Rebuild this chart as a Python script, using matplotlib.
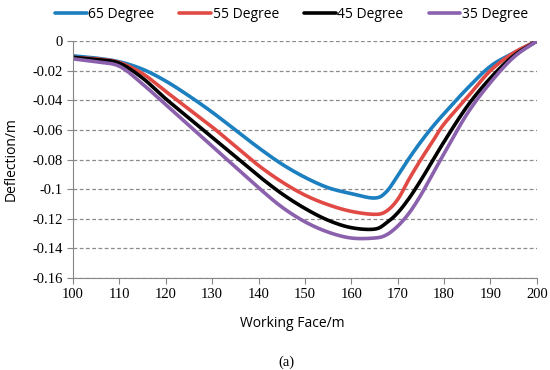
import matplotlib
matplotlib.use("Agg")
import matplotlib.pyplot as plt
import numpy as np

# working face position (m)
face = [100, 105, 110, 115, 120, 125, 130, 135, 140, 145, 150, 155, 160,
        165, 167.5, 170, 172.5, 175, 177.5, 180, 185, 190, 195, 200]

deg65 = [-0.010, -0.0115, -0.014, -0.019, -0.027, -0.037, -0.048, -0.060, -0.072,
         -0.083, -0.092, -0.099, -0.103, -0.106, -0.102, -0.091, -0.079, -0.068,
         -0.058, -0.049, -0.032, -0.017, -0.008, 0.0]
deg55 = [-0.011, -0.012, -0.0145, -0.022, -0.034, -0.046, -0.058, -0.071, -0.084,
         -0.095, -0.104, -0.1105, -0.115, -0.117, -0.115, -0.107, -0.093, -0.080,
         -0.068, -0.056, -0.038, -0.020, -0.008, 0.0]
deg45 = [-0.011, -0.0125, -0.015, -0.025, -0.039, -0.052, -0.065, -0.078, -0.091,
         -0.103, -0.113, -0.121, -0.126, -0.127, -0.123, -0.116, -0.106, -0.094,
         -0.081, -0.068, -0.044, -0.025, -0.010, 0.0]
deg35 = [-0.012, -0.014, -0.017, -0.029, -0.043, -0.057, -0.071, -0.085, -0.099,
         -0.112, -0.122, -0.129, -0.133, -0.133, -0.131, -0.125, -0.116, -0.104,
         -0.090, -0.076, -0.049, -0.028, -0.011, 0.0]

labels = ["65 Degree", "55 Degree", "45 Degree", "35 Degree"]
colors = ["#1b7fc0", "#e14a44", "#000000", "#8b61ad"]

xticks = list(range(100, 201, 10))
yticks = [0, -0.02, -0.04, -0.06, -0.08, -0.1, -0.12, -0.14, -0.16]
ytick_labels = ["0", "-0.02", "-0.04", "-0.06", "-0.08", "-0.1", "-0.12", "-0.14", "-0.16"]


def smooth(x, y, n=12):
    # catmull-rom drawing like excel's smoothed line
    x = np.asarray(x, float)
    y = np.asarray(y, float)
    px = np.concatenate([[2 * x[0] - x[1]], x, [2 * x[-1] - x[-2]]])
    py = np.concatenate([[2 * y[0] - y[1]], y, [2 * y[-1] - y[-2]]])
    xs, ys = [], []
    t = np.linspace(0, 1, n, endpoint=False)
    for i in range(1, len(px) - 2):
        for p, out in ((px, xs), (py, ys)):
            p0, p1, p2, p3 = p[i - 1], p[i], p[i + 1], p[i + 2]
            out.extend(0.5 * (2 * p1 + (-p0 + p2) * t
                              + (2 * p0 - 5 * p1 + 4 * p2 - p3) * t ** 2
                              + (-p0 + 3 * p1 - 3 * p2 + p3) * t ** 3))
    xs.append(x[-1])
    ys.append(y[-1])
    return xs, ys


fig = plt.figure(figsize=(5.5, 3.7), dpi=100)
ax = fig.add_axes([0.1327, 0.2486, 0.8433, 0.6404])

for ys, lab, c in zip([deg65, deg55, deg45, deg35], labels, colors):
    sx, sy = smooth(face, ys)
    ax.plot(sx, sy, color=c, lw=2.6, label=lab, solid_capstyle="round")

ax.set_xlim(100, 200)
ax.set_ylim(-0.16, 0)
ax.set_xticks(xticks)
ax.set_yticks(yticks)
ax.set_yticklabels(ytick_labels)
for t in ax.get_xticklabels() + ax.get_yticklabels():
    t.set_fontfamily("Liberation Serif")
    t.set_fontsize(10.5)

ax.grid(axis="y", color="#8a8a8a", ls=(0, (3, 2)), lw=0.9)
ax.set_axisbelow(True)
for s in ["top", "right"]:
    ax.spines[s].set_visible(False)
for s in ["left", "bottom"]:
    ax.spines[s].set_color("#868686")
ax.tick_params(colors="#868686", labelcolor="black", length=4, width=0.8)

ax.set_xlabel("Working Face/m", fontfamily="Open Sans", fontsize=10)
ax.set_ylabel("Deflection/m", fontfamily="Open Sans", fontsize=10)
ax.xaxis.set_label_coords((292 - 73) / 464, -0.16)
ax.yaxis.set_label_coords(-0.118, 0.5)

fig.legend(loc="center", bbox_to_anchor=(0.53, 0.962), ncol=4, frameon=False,
           prop={"family": "Open Sans", "size": 10}, handlelength=2.3,
           handletextpad=0.1, columnspacing=1.8)

fig.text(0.52, 0.02, "(a)", ha="center", va="center",
         fontfamily="Liberation Serif", fontsize=10.5)

fig.savefig("out.png", dpi=100)
